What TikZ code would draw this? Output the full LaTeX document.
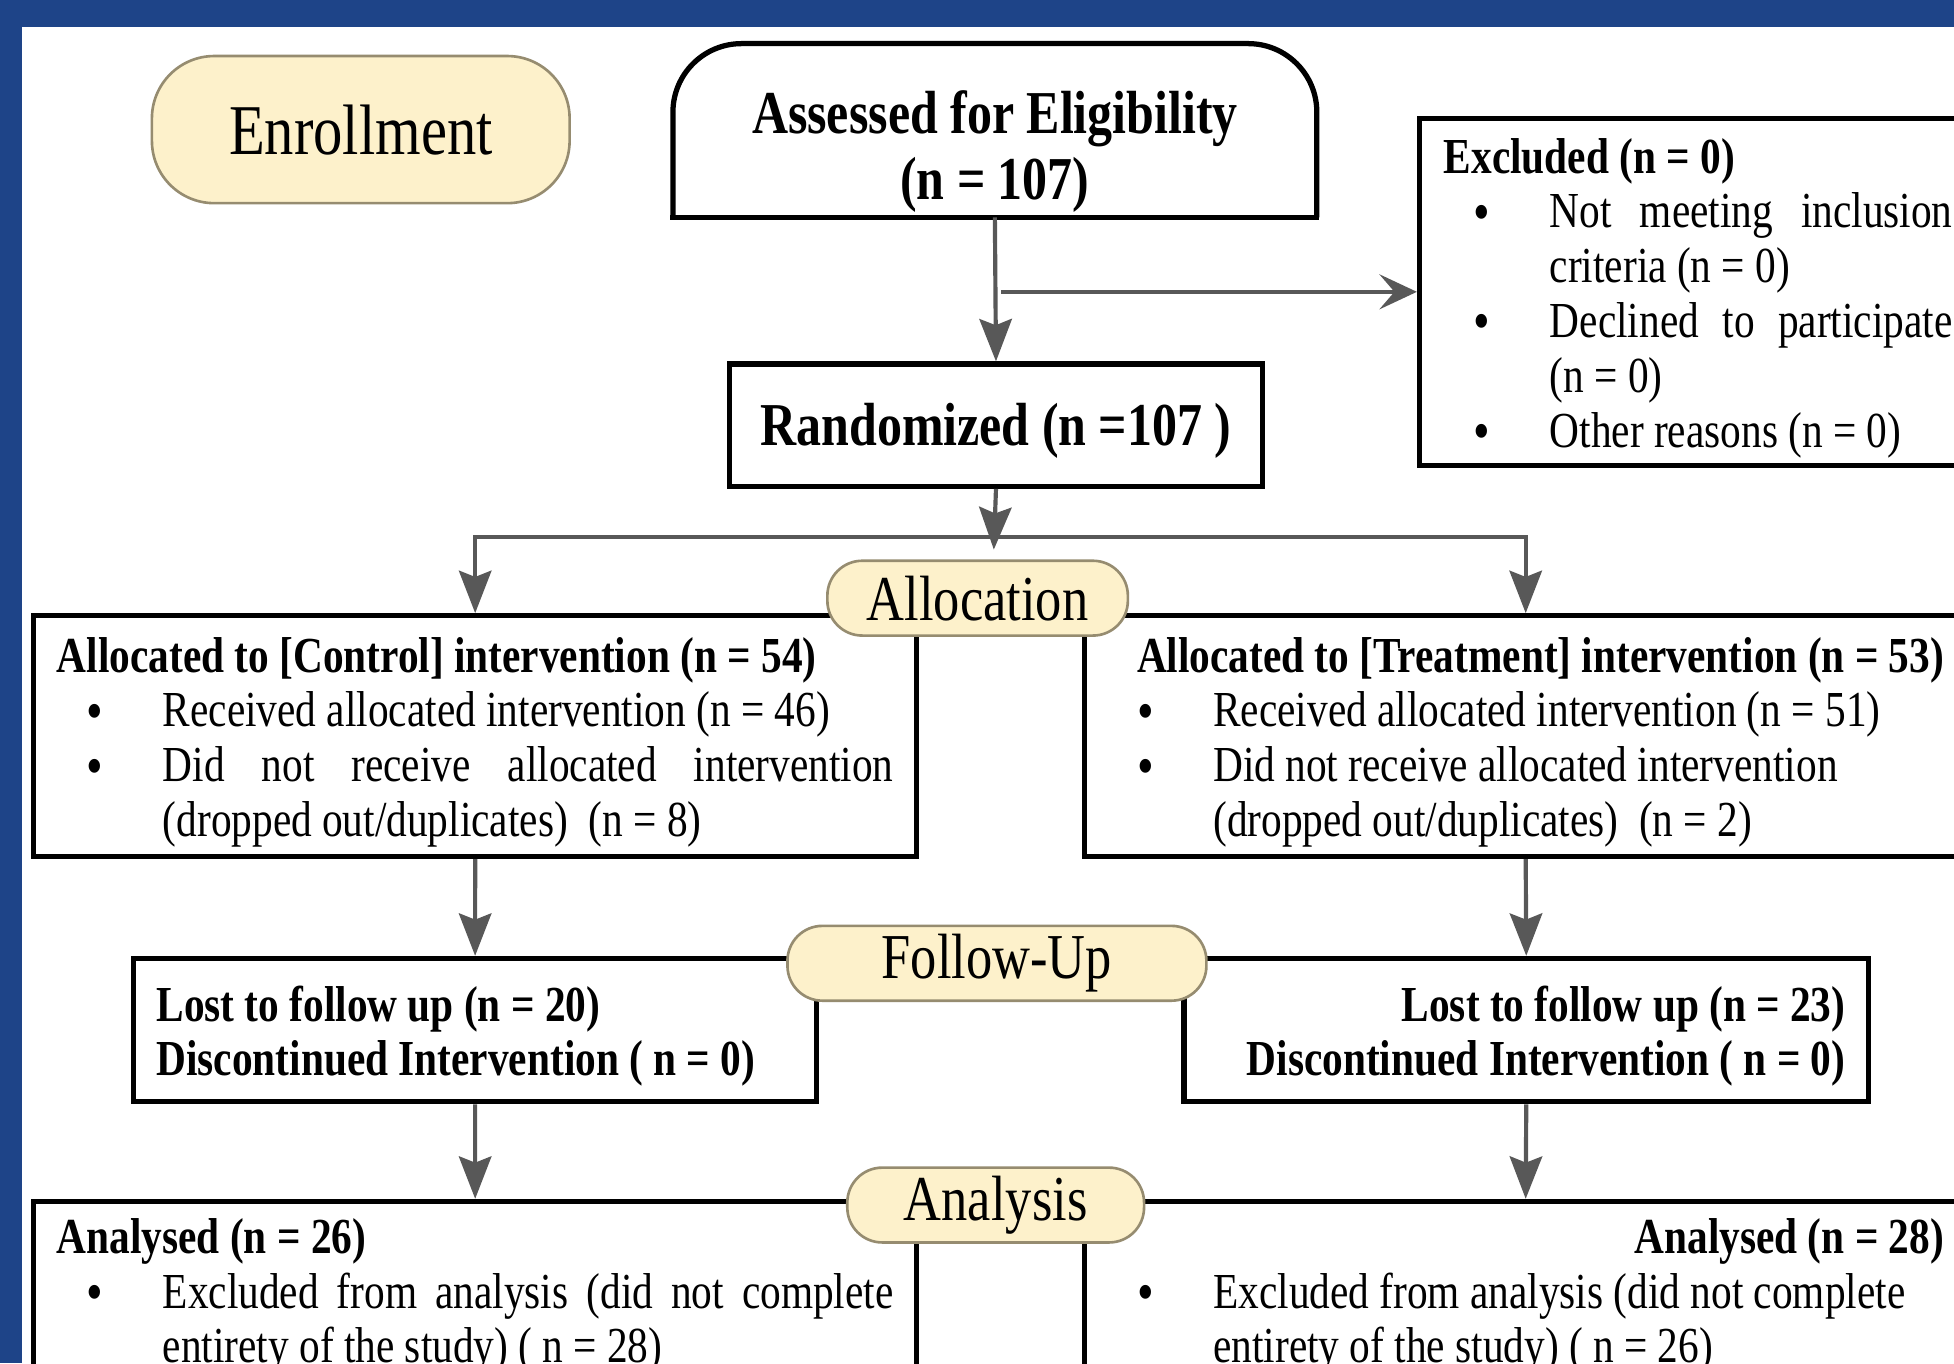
\documentclass[tikz,border=0pt]{standalone}
\usepackage{fontspec}
\usepackage{graphicx}
\setmainfont{Liberation Serif}[FakeStretch=0.82]
\usetikzlibrary{arrows.meta}

\definecolor{frameblue}{RGB}{30,68,136}
\definecolor{phasefill}{RGB}{253,241,203}
\definecolor{phaseline}{RGB}{150,140,112}
\definecolor{arrowgray}{RGB}{88,88,88}

%\bitem{text}: bullet line with hanging indent
\newcommand*{\bitem}[1]{\par\hangindent=8.5mm\hangafter=1\noindent
	\makebox[8.5mm][l]{\hspace*{2.4mm}\raisebox{-0.15ex}{\scalebox{1.15}{\textbullet}}}#1\par}

\tikzset{
	boxline/.style={draw=black, line width=1.2pt},
	listbox/.style={boxline, anchor=north west, inner ysep=0pt, inner xsep=1.85mm,
		text width=6.71cm, minimum height=1.93cm, align=justify,
		execute at begin node={\rule{0pt}{10.8pt}},
		font=\fontsize{11.5}{12.5}\selectfont},
	titlebox/.style={inner sep=0pt, align=center,
		font=\fontsize{13.9}{15.1}\selectfont\bfseries},
	phase/.style={draw=phaseline, line width=0.6pt, fill=phasefill, inner sep=0pt,
		minimum height=0.6cm, rounded corners=2.8mm, font=\fontsize{14.6}{16}\selectfont},
	arrow/.style={draw=arrowgray, line width=0.95pt,
		-{Stealth[length=3.4mm, width=2.6mm, inset=0.5mm]}},
}

\begin{document}
\begin{tikzpicture}[x=0.01cm, y=-0.01cm]

\useasboundingbox (0,0) rectangle (1568,1094);
\clip (0,0) rectangle (1568,1094);

% background
\fill [frameblue] (0,0) rectangle (1568,1094);
\fill [white] (18,22) rectangle (1600,1120);

% enrollment
\node [phase, minimum width=3.35cm, minimum height=1.18cm, rounded corners=5mm,
	font=\fontsize{16.3}{18}\selectfont] (enroll) at (289.5,104) {Enrollment};

\node [anchor=north west, inner sep=0pt, minimum width=5.15cm, minimum height=1.38cm] (assess) at (540,35) {};
\draw [boxline, rounded corners=5.5mm] (assess.south west) -- (assess.north west)
	-- (assess.north east) -- (assess.south east);
\draw [boxline, line cap=rect] (assess.south west) -- (assess.south east);
\node [titlebox] (assesstxt) at ([yshift=-1.7mm]assess.center) {Assessed for Eligibility\\(n = 107)};

\node [listbox, text width=4.08cm, inner xsep=1.95mm, minimum height=2.78cm] (excl) at (1137,93) {%
	\textbf{Excluded (n = 0)}
	\bitem{Not meeting inclusion\linebreak criteria (n = 0)}
	\bitem{Declined to participate\linebreak (n = 0)}
	\bitem{Other reasons (n = 0)}};

\node [titlebox, boxline, anchor=north west, minimum width=4.28cm, minimum height=0.98cm,
	text height=12.4pt, text depth=3pt] (rand) at (583,290) {Randomized (n =107 )};

% allocation
\node [listbox] (ctrl) at (25,492) {%
	\textbf{Allocated to [Control] intervention (n = 54)}
	\bitem{Received allocated intervention (n = 46)}
	\bitem{Did not receive allocated intervention\linebreak (dropped out/duplicates)\ \ (n = 8)}};

\node [listbox] (treat) at (868,492) {%
	{\raggedleft\bfseries Allocated to [Treatment] intervention (n = 53)\par}
	\bitem{Received allocated intervention (n = 51)}
	\bitem{Did not receive allocated intervention\newline (dropped out/duplicates)\ \ (n = 2)}};

% follow-up
\node [listbox, text width=5.11cm, minimum height=1.15cm, font=\fontsize{11.5}{12.5}\selectfont\bfseries]
	(lostL) at (105,767) {Lost to follow up (n = 20)\par Discontinued Intervention ( n = 0)\par};
\node [listbox, text width=5.12cm, minimum height=1.15cm, font=\fontsize{11.5}{12.5}\selectfont\bfseries]
	(lostR) at (948,767) {\raggedleft Lost to follow up (n = 23)\par Discontinued Intervention ( n = 0)\par};

% analysis
\node [listbox, minimum height=1.42cm] (anaL) at (25,962) {%
	\textbf{Analysed (n = 26)}
	\bitem{Excluded from analysis (did not complete\linebreak entirety of the study) ( n = 28)}};
\node [listbox, minimum height=1.42cm] (anaR) at (868,962) {%
	{\raggedleft\bfseries Analysed (n = 28)\par}
	\bitem{Excluded from analysis (did not complete\newline entirety of the study) ( n = 26)}};

% phase labels
\node [phase, minimum width=2.41cm] (alloc) at (784.5,480) {Allocation};
\node [phase, minimum width=3.36cm] (follow) at (800,773) {Follow-Up};
\node [phase, minimum width=2.38cm] (analysis) at (799,967) {Analysis};

% connectors
\coordinate (split) at (797.5,431);
\coordinate (splittip) at (797.5,441);

\draw [arrow] (assess.south) -- (rand.north);
\draw [arrow, -{Stealth[length=3mm, width=2.8mm, inset=1.2mm]}] ([xshift=0.5mm]assess.south |- excl.west) -- (excl.west);
\draw [arrow] (rand.south) -- (splittip);
\draw [arrow] (split) -| (ctrl.north);
\draw [arrow] (split) -| (treat.north);
\draw [arrow] (ctrl.south) -- (lostL.north);
\draw [arrow] (treat.south) -- (lostR.north);
\draw [arrow] (lostL.south) -- (anaL.north);
\draw [arrow] (lostR.south) -- (anaR.north);

\end{tikzpicture}
\end{document}
